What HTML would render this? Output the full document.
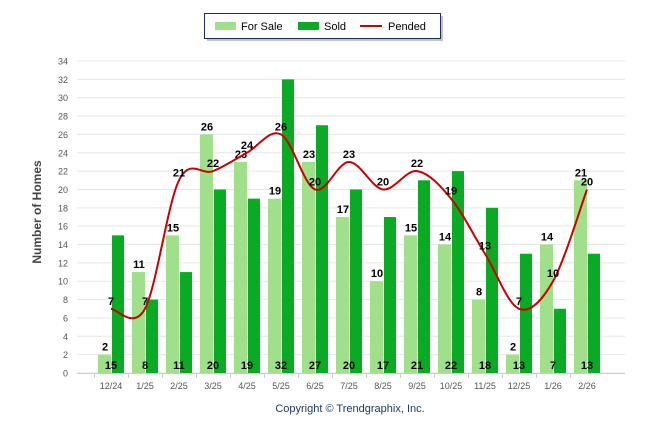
<!DOCTYPE html>
<html><head><meta charset="utf-8"><style>
body{margin:0;background:#fff;font-family:"Liberation Sans",sans-serif}
</style></head><body>
<svg id="c" width="646" height="434" xmlns="http://www.w3.org/2000/svg" font-family="Liberation Sans, sans-serif"></svg>
<script>
const categories=["12/24","1/25","2/25","3/25","4/25","5/25","6/25","7/25","8/25","9/25","10/25","11/25","12/25","1/26","2/26"];
const forSale=[2,11,15,26,23,19,23,17,10,15,14,8,2,14,21];
const sold=[15,8,11,20,19,32,27,20,17,21,22,18,13,7,13];
const pended=[7,7,21,22,24,26,20,23,20,22,19,13,7,10,20];
const yTicks=[0,2,4,6,8,10,12,14,16,18,20,22,24,26,28,30,32,34];
const svg=document.getElementById('c');
const NS='http://www.w3.org/2000/svg';
function y(v){return 373-v*(312/34);}
function xc(i){return 111+34*i;}
function mk(t,a,p){const e=document.createElementNS(NS,t);for(const k in a)e.setAttribute(k,a[k]);(p||svg).appendChild(e);return e;}
// grid and y ticks
yTicks.forEach(v=>{
 const g=mk('line',{x1:77,x2:625,y1:y(v),y2:y(v),stroke:'#e6e6e6','stroke-width':1});
 
 
 const t=mk('text',{x:68,y:y(v)+3.5,'font-size':9,'text-anchor':'end',fill:'#555'});
 t.textContent=v;
 
 
});
mk('line',{x1:77,x2:625,y1:373.5,y2:373.5,stroke:'#ccc'});
const yt=mk('text',{x:0,y:0,'font-size':12,'font-weight':'bold',fill:'#444','text-anchor':'middle',transform:'translate(41,212) rotate(-90)'});
yt.textContent='Number of Homes';


categories.forEach((c,i)=>{
 mk('line',{x1:94+34*i+0.5,x2:94+34*i+0.5,y1:373,y2:378,stroke:'#ccc'});
 const t=mk('text',{x:xc(i),y:389,'font-size':9,'text-anchor':'middle',fill:'#555'});
 t.textContent=c;
 
 
 const b1=mk('rect',{x:xc(i)-13,y:y(forSale[i]),width:13,height:373-y(forSale[i]),fill:'#a0e08a'});
 
 
 const b2=mk('rect',{x:xc(i)+1,y:y(sold[i]),width:12,height:373-y(sold[i]),fill:'#0aaa24'});
 
 
 const l1=mk('text',{x:xc(i)-6,y:y(forSale[i])-4,'font-size':11,'font-weight':'bold','text-anchor':'middle'});
 l1.textContent=forSale[i];
 
 
 const l2=mk('text',{x:xc(i),y:369,'font-size':11,'font-weight':'bold','text-anchor':'middle'});
 l2.textContent=sold[i];
 
 
});
// pended smooth line
const pts=pended.map((v,i)=>[xc(i),y(v)]);
let d='M'+pts[0][0]+','+pts[0][1];
for(let i=0;i<pts.length-1;i++){
 const p0=pts[i-1]||pts[i],p1=pts[i],p2=pts[i+1],p3=pts[i+2]||p2;
 const c1=[p1[0]+(p2[0]-p0[0])/6,p1[1]+(p2[1]-p0[1])/6];
 const c2=[p2[0]-(p3[0]-p1[0])/6,p2[1]-(p3[1]-p1[1])/6];
 d+=` C${c1[0]},${c1[1]} ${c2[0]},${c2[1]} ${p2[0]},${p2[1]}`;
}
const pl=mk('path',{d:d,fill:'none',stroke:'#cc0000','stroke-width':2});


pended.forEach((v,i)=>{
 const t=mk('text',{x:xc(i),y:y(v)-4,'font-size':11,'font-weight':'bold','text-anchor':'middle'});
 t.textContent=v;
 
 
});
// legend
const lg=mk('g',{});


mk('rect',{x:207,y:16,width:236,height:25,fill:'#888',opacity:0.5},lg);
mk('rect',{x:204.5,y:13.5,width:236,height:25,fill:'#fff',stroke:'#1a2f5a'},lg);
mk('rect',{x:215,y:22,width:21,height:8,fill:'#a0e08a'},lg);
const a=mk('text',{x:241,y:30,'font-size':11},lg);a.textContent='For Sale';

mk('rect',{x:298,y:22,width:21,height:8,fill:'#0aaa24'},lg);
const b=mk('text',{x:324,y:30,'font-size':11},lg);b.textContent='Sold';

mk('line',{x1:360,x2:382,y1:26,y2:26,stroke:'#cc0000','stroke-width':2},lg);
const c=mk('text',{x:388,y:30,'font-size':11},lg);c.textContent='Pended';

const cp=mk('text',{x:350,y:412,'font-size':11,'text-anchor':'middle',fill:'#1a3a6a'});
cp.textContent='Copyright © Trendgraphix, Inc.';


</script>
</body></html>
